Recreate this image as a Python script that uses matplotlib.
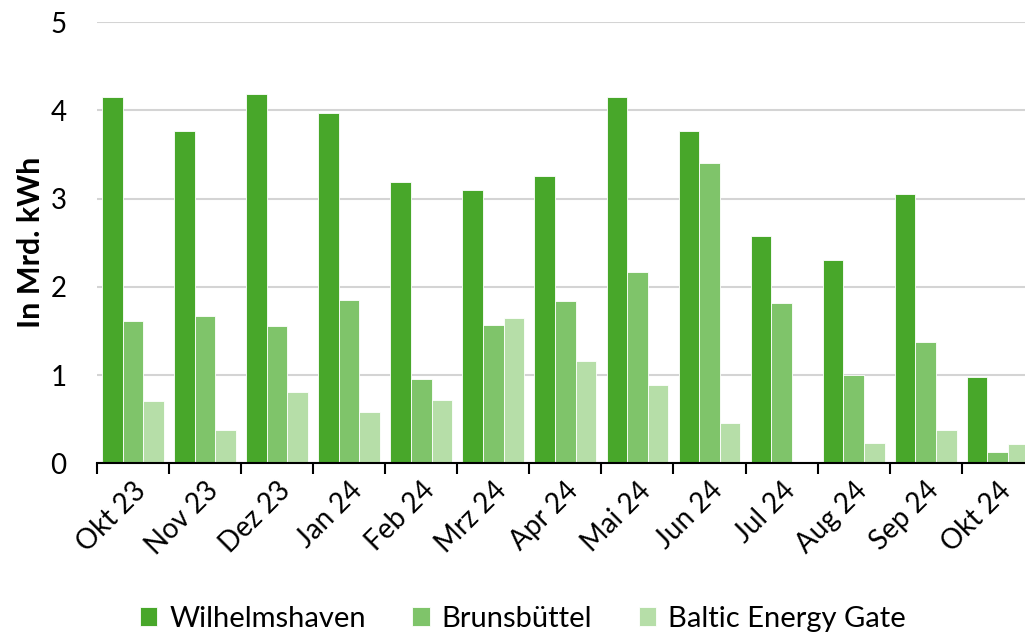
import matplotlib.pyplot as plt
import numpy as np

plt.rcParams['font.family'] = ['Lato', 'DejaVu Sans']

months = ['Okt 23', 'Nov 23', 'Dez 23', 'Jan 24', 'Feb 24', 'Mrz 24', 'Apr 24',
          'Mai 24', 'Jun 24', 'Jul 24', 'Aug 24', 'Sep 24', 'Okt 24']
wilhelmshaven = [4.15, 3.76, 4.18, 3.97, 3.19, 3.10, 3.25, 4.15, 3.77, 2.57, 2.30, 3.05, 0.98]
brunsbuettel = [1.61, 1.67, 1.56, 1.85, 0.95, 1.57, 1.84, 2.17, 3.40, 1.82, 1.00, 1.37, 0.13]
baltic = [0.71, 0.38, 0.81, 0.58, 0.72, 1.65, 1.16, 0.89, 0.46, 0.0, 0.23, 0.38, 0.22]

series = [('Wilhelmshaven', wilhelmshaven, '#48a72a'),
          ('Brunsbüttel', brunsbuettel, '#7fc46a'),
          ('Baltic Energy Gate', baltic, '#b6dea8')]

fig = plt.figure(figsize=(10.25, 6.36), dpi=100)
ax = fig.add_axes([0.0946, 0.2715, 0.914, 0.6939])

x = np.arange(len(months))
bw = 0.286
for i, (name, vals, col) in enumerate(series):
    ax.bar(x + (i - 1) * bw, vals, bw, color=col, edgecolor='white',
           linewidth=0.6, label=name, zorder=3)

ax.set_xlim(-0.5, len(months) - 0.5)
ax.set_ylim(0, 5)
ax.set_yticks(range(6))
ax.tick_params(axis='y', length=0, labelsize=20, pad=22)
ax.grid(axis='y', color='#d4d4d4', linewidth=1.5, zorder=0)

# ticks between categories, labels at the centres
ax.set_xticks(np.arange(len(months) + 1) - 0.5)
ax.set_xticklabels([])
ax.tick_params(axis='x', which='major', length=8, width=1.5, direction='out')
ax.set_xticks(x, minor=True)
ax.set_xticklabels(months, minor=True, rotation=45, ha='right',
                   rotation_mode='anchor', fontsize=20)
ax.tick_params(axis='x', which='minor', length=0, pad=10)

for s in ['top', 'right', 'left']:
    ax.spines[s].set_visible(False)
ax.spines['bottom'].set_linewidth(1.5)
ax.spines['bottom'].set_zorder(4)

ax.set_ylabel('In Mrd. kWh', fontsize=22, fontweight='bold', labelpad=4)

fig.legend(loc='lower center', bbox_to_anchor=(0.51, -0.035), ncol=3, frameon=False,
           fontsize=21, handlelength=0.6, handleheight=0.6, handletextpad=0.4,
           columnspacing=1.6)

fig.savefig('out.png', dpi=100)
